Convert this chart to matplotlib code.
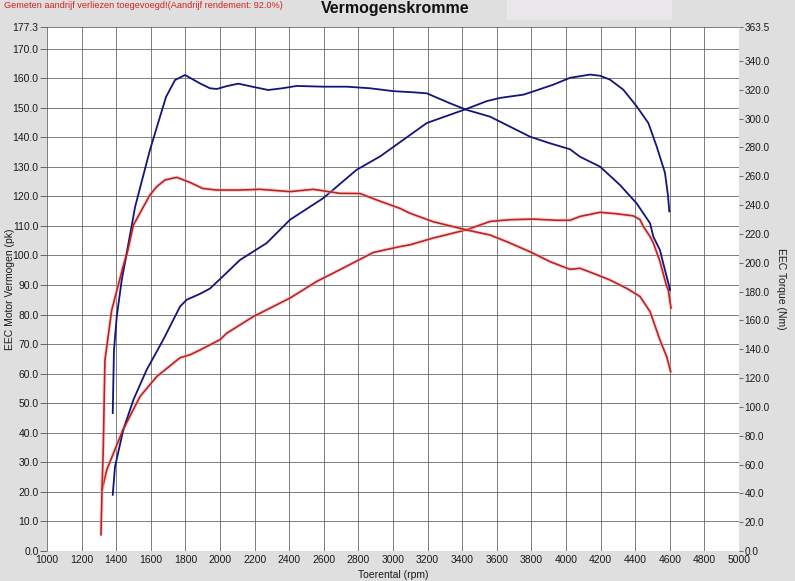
import matplotlib
matplotlib.use("Agg")
import matplotlib.pyplot as plt

plt.rcParams['font.family'] = ['Liberation Sans', 'DejaVu Sans']

# ---- data ----
# Tuned (blue) torque, Nm (right axis)
tuned_torque_rpm = [1380, 1387, 1403, 1432, 1461, 1509, 1595, 1688, 1740, 1798, 1838, 1884, 1942, 1981,
                    2040, 2106, 2190, 2279, 2360, 2443, 2597, 2732, 2867, 3002, 3117, 3195, 3329, 3426,
                    3561, 3676, 3792, 3908, 4023, 4081, 4197, 4312, 4408, 4486, 4505, 4543, 4562, 4597, 4601]
tuned_torque = [95.7, 139, 162.5, 188, 206.7, 238.6, 278.2, 315, 326.7, 330.2, 327.5, 324.4, 321, 320.5,
                322.5, 324.2, 322.0, 319.8, 321.0, 322.6, 322.1, 322.1, 321, 319, 318.2, 317.5, 310.6, 306,
                301.3, 294.4, 287.4, 282.8, 278.7, 273.5, 266.6, 253.9, 241.2, 227.3, 218, 208.8, 199.6, 183.4, 181]

# Tuned (blue) power, pk (left axis)
tuned_power_rpm = [1380, 1393, 1441, 1499, 1576, 1672, 1769, 1807, 1884, 1942, 2000, 2116, 2270, 2405,
                   2597, 2790, 2925, 3040, 3195, 3329, 3426, 3541, 3618, 3753, 3811, 3927, 4023, 4139,
                   4197, 4254, 4331, 4408, 4476, 4524, 4572, 4590, 4597]
tuned_power = [19, 28.5, 41, 51.1, 61.3, 71.5, 82.7, 85, 87, 88.8, 92, 98.5, 104.2, 112.1,
               119.4, 129, 133.5, 138.3, 144.8, 147.6, 149.6, 152.2, 153.3, 154.4, 155.5, 157.8, 160.1, 161.2,
               160.8, 159.5, 156.1, 150.5, 144.8, 136.9, 128, 120, 114.9]

# Stock (red) torque, Nm (right axis)
stock_torque_rpm = [1318, 1325, 1335, 1374, 1439, 1468, 1499, 1595, 1634, 1682, 1750, 1830, 1900, 1981,
                    2116, 2231, 2405, 2539, 2694, 2809, 2906, 3040, 3098, 3233, 3426, 3561, 3657, 3792,
                    3908, 4023, 4081, 4158, 4254, 4351, 4428, 4486, 4543, 4582, 4605]
stock_torque = [42, 70, 132.5, 167, 197, 209, 226, 247, 252.7, 257.4, 259.2, 255.5, 251.5, 250.4,
                250.4, 250.9, 249.3, 250.9, 248.1, 248, 243.5, 237.7, 234.3, 228.4, 222.7, 219.2, 214.6, 207.6,
                200.7, 195.4, 196.1, 192.6, 188, 182.2, 176.5, 166, 146.4, 134.8, 124.4]

# Stock (red) power, pk (left axis)
stock_power_rpm = [1312, 1318, 1345, 1439, 1538, 1634, 1769, 1827, 1884, 2000, 2039, 2192, 2405, 2559,
                   2694, 2886, 3040, 3098, 3233, 3426, 3561, 3676, 3811, 3946, 4023, 4081, 4197, 4293,
                   4389, 4428, 4447, 4486, 4505, 4543, 4582, 4591, 4607]
stock_power = [5.5, 20.5, 27.4, 41, 52.3, 59, 65.4, 66.4, 68, 71.5, 73.7, 79.3, 85.6, 91.2,
               95.2, 101, 103, 103.6, 105.9, 108.7, 111.5, 112.1, 112.3, 111.9, 111.9, 113.2, 114.6, 114.1,
               113.4, 112.1, 109.8, 106.4, 104.2, 98, 89.5, 88.4, 82.2]

x_ticks = list(range(1000, 5001, 200))
left_ticks = [i * 10.0 for i in range(18)] + [177.3]
right_ticks = [i * 20.0 for i in range(18)] + [363.5]

title = "Vermogenskromme"
note = "Gemeten aandrijf verliezen toegevoegd!(Aandrijf rendement: 92.0%)"

# ---- figure ----
W, H = 795, 581
fig = plt.figure(figsize=(W / 100, H / 100), dpi=100)
fig.patch.set_facecolor('#dfdfdf')

# lighter box behind title area (right)
fig.patches.append(plt.Rectangle((507 / W, 1 - 20 / H), 165 / W, 20 / H,
                                 transform=fig.transFigure, facecolor='#e9e7e9',
                                 edgecolor='none', zorder=0))

ax = fig.add_axes([47 / W, 1 - 551 / H, (739 - 47) / W, (551 - 27) / H])
ax.set_facecolor('white')
ax.set_xlim(1000, 5000)
ax.set_ylim(0, 177.3)
ax2 = ax.twinx()
ax2.set_ylim(0, 363.5)

ax.set_xticks(x_ticks)
ax.set_xticklabels([str(v) for v in x_ticks])
ax.set_yticks(left_ticks)
ax.set_yticklabels([f"{v:.1f}" for v in left_ticks])
ax2.set_yticks(right_ticks)
ax2.set_yticklabels([f"{v:.1f}" for v in right_ticks])

ax.grid(True, color='#5a5a5a', linewidth=0.55)
ax.set_axisbelow(True)
for a in (ax, ax2):
    for s in a.spines.values():
        s.set_visible(False)

ax.tick_params(axis='x', length=0, pad=3, labelsize=7.5, colors='#1a1a1a')
ax.tick_params(axis='y', length=5, width=0.6, pad=1, labelsize=7.5, colors='#555555', labelcolor='#1a1a1a')
ax2.tick_params(axis='y', length=3, width=0.6, pad=1, labelsize=7.2, colors='#555555', labelcolor='#1a1a1a')

blue = '#14147a'
red = '#bb2222'
# soft halo on the red curves
ax.plot(stock_power_rpm, stock_power, color='#f4b0b0', lw=2.8, alpha=0.45, solid_capstyle='round')
ax2.plot(stock_torque_rpm, stock_torque, color='#f4b0b0', lw=2.8, alpha=0.45, solid_capstyle='round')
ax.plot(tuned_power_rpm, tuned_power, color=blue, lw=1.3)
ax.plot(stock_power_rpm, stock_power, color=red, lw=1.2)
ax2.plot(tuned_torque_rpm, tuned_torque, color=blue, lw=1.3)
ax2.plot(stock_torque_rpm, stock_torque, color=red, lw=1.2)

fig.text(10 / W, 1 - 289 / H, "EEC Motor Vermogen (pk)", fontsize=7.5, color='#1a1a1a',
         rotation=90, ha='center', va='center')
fig.text(781 / W, 1 - 289 / H, "EEC Torque (Nm)", fontsize=7.5, color='#1a1a1a',
         rotation=-90, ha='center', va='center')
fig.text(393 / W, 1 - 575 / H, "Toerental (rpm)", fontsize=7.5, color='#1a1a1a',
         ha='center', va='center')

fig.text(395 / W, 1 - 9 / H, title, fontsize=11.5, fontweight='bold', color='#111111',
         ha='center', va='center')
fig.text(4 / W, 1 - 5 / H, note, fontsize=6.6, color='#d42020', ha='left', va='center')

fig.savefig("out.png", dpi=100, facecolor=fig.get_facecolor())
